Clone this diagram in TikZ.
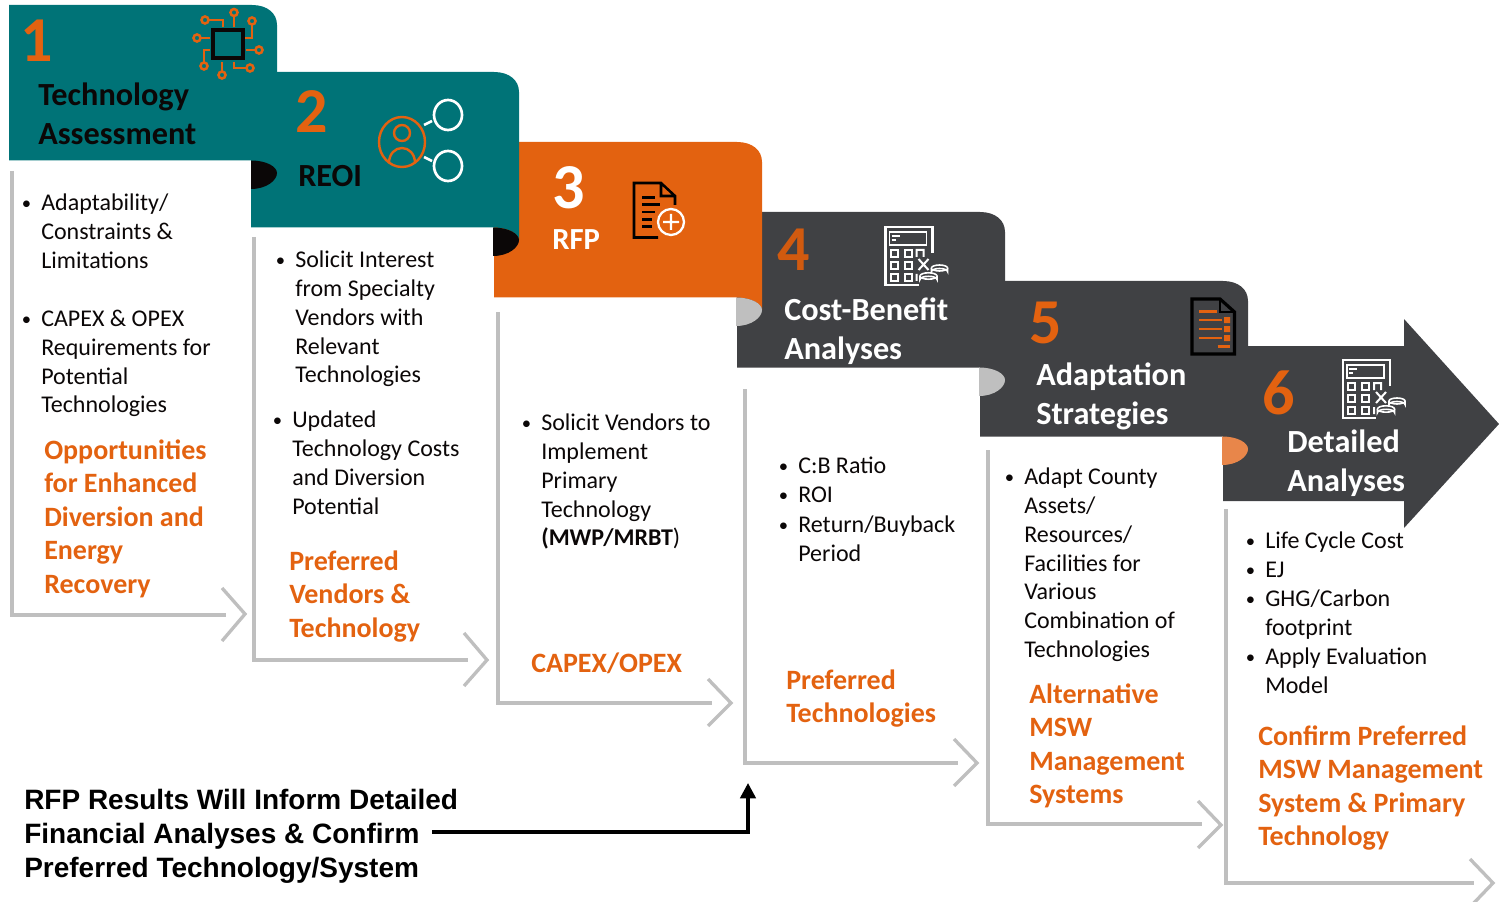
\documentclass[tikz,border=0pt]{standalone}
\usepackage{fontspec}
\setmainfont{Carlito}
\newfontfamily\notefont{Liberation Sans}
\usetikzlibrary{arrows.meta}
\definecolor{rteal}{HTML}{007377}
\definecolor{rorange}{HTML}{E36210}
\definecolor{rdark}{HTML}{404144}
\definecolor{rgray}{HTML}{BFBFBF}
\definecolor{rcurl}{HTML}{E8864A}
\definecolor{rblack}{HTML}{0B0707}
\newcommand{\bul}{\llap{\raisebox{0.8pt}{\fontsize{14}{14}\selectfont\textbullet}\hspace{7.5pt}}}

\begin{document}
\begin{tikzpicture}[x=0.75pt,y=-0.75pt]
		\clip (0,0) rectangle (1499,902);
		\tikzset{body/.style = {anchor=north west,inner sep=0pt,align=left,text=rblack,font=\fontsize{18}{21.55}\selectfont,execute at begin node=\strut}}
		\tikzset{head/.style = {anchor=north west,inner sep=0pt,align=left,text=rorange,font=\fontsize{21}{25.1}\bfseries\selectfont,execute at begin node=\strut}}
		\tikzset{title/.style = {anchor=north west,inner sep=0pt,align=left,font=\fontsize{24.2}{29}\bfseries\selectfont,execute at begin node=\strut}}
		\tikzset{number/.style = {anchor=base west,inner sep=0pt,font=\fontsize{48}{48}\bfseries\selectfont}}
		\tikzset{note/.style = {anchor=north west,inner sep=0pt,align=left,text=black,font=\fontsize{21}{25.5}\notefont\bfseries\selectfont,execute at begin node=\strut}}
		\tikzset{bent/.style = {draw=rgray,line width=2.5pt,line join=miter}}
		\tikzset{pics/ribbon/.style 2 args = {code = {
			\fill[#1] (0,0) -- (243,0) .. controls (258,0) and (268,8) .. (268,20) -- (268,168) .. controls (268,162) and (258,155.5) .. (242,155.5) -- (0,155.5) -- cycle;
			\fill[#2] (242,155.5) .. controls (258,155.5) and (268,162) .. (268,168) .. controls (268,175) and (258,184) .. (242,184) -- cycle;
		}}}
		\tikzset{pics/calcicon/.style = {code = {
			\draw[white,line width=1.6pt] (47,26) -- (47,0) -- (0,0) -- (0,58) -- (33,58);
			\draw[white,line width=1.3pt] (4,5) rectangle (41,18) (6,9) -- (14,9) (6,13) -- (10,13);
			\draw[white,line width=1.5pt] (5,23) rectangle +(7,7) (19,23) rectangle +(7,7) (5,35) rectangle +(7,7) (19,35) rectangle +(7,7) (5,47) rectangle +(7,7) (19,47) rectangle +(7,7);
			\draw[white,line width=1.5pt] (38,30) -- (38,23) -- (31,23) -- (31,30) (31,47) -- (31,54) (33,32) -- (43,43) (43,32) -- (33,43);
			\draw[white,fill=rdark,line width=1.2pt] (54,41) ellipse (8 and 3);
			\draw[white,fill=rdark,line width=1.2pt] (46,41) -- (46,44.5) arc (180:360:8 and 3) -- (62,41);
			\draw[white,fill=rdark,line width=1.2pt] (43,49) ellipse (8.5 and 3.2);
			\draw[white,fill=rdark,line width=1.2pt] (34.5,49) -- (34.5,52.5) arc (180:360:8.5 and 3.2) -- (51.5,49);
		}}}

		% ribbons, last one first
		\fill[rdark] (1223,346) -- (1404,346) -- (1404,319) -- (1499,424) -- (1404,528) -- (1404,501) -- (1223,501) -- cycle;
		\pic at (980,281) {ribbon={rdark}{rcurl}};
		\pic at (737,212) {ribbon={rdark}{rgray}};
		\pic at (494,142) {ribbon={rorange}{rgray}};
		\pic at (251,72) {ribbon={rteal}{rblack}};
		\pic at (9,5) {ribbon={rteal}{rblack}};

		% bent lines under the ribbons
		\draw[bent] (12,171) -- (12,615) -- (226,615);
		\draw[bent] (222,588) -- (245,614) -- (222,641);
		\draw[bent] (254,237) -- (254,660) -- (468,660);
		\draw[bent] (464,633) -- (487,660) -- (464,686);
		\draw[bent] (498,312) -- (498,703) -- (712,703);
		\draw[bent] (708,679) -- (731,703) -- (708,726);
		\draw[bent] (745,389) -- (745,763) -- (958,763);
		\draw[bent] (954,739) -- (977,763) -- (954,786);
		\draw[bent] (988,450) -- (988,824) -- (1202,824);
		\draw[bent] (1198,801) -- (1221,825) -- (1198,848);
		\draw[bent] (1226,509) -- (1226,883) -- (1474,883);
		\draw[bent] (1470,859) -- (1493,883) -- (1470,907);

		% numbers and titles
		\node[number,text=rorange] (n1) at (20,62) {1};
		\node[number,text=rorange] (n2) at (295,133) {2};
		\node[number,text=white] (n3) at (552.5,209) {3};
		\node[number,text=rorange!92!black] (n4) at (777,271) {4};
		\node[number,text=rorange] (n5) at (1029,344) {5};
		\node[number,text=rorange] (n6) at (1262,414) {6};
		\node[title,text=rblack] (t1) at (38,82.5) {Technology\\Assessment};
		\node[title,text=rblack] (t2) at (298,159) {REOI};
		\node[title,text=white,font=\fontsize{23}{25}\bfseries\selectfont] (t3) at (552,226) {RFP};
		\node[title,text=white] (t4) at (784,298) {Cost-Benefit\\Analyses};
		\node[title,text=white] (t5) at (1036,363) {Adaptation\\Strategies};
		\node[title,text=white] (t6) at (1287,430) {Detailed\\Analyses};

		% chip
		\draw[rorange,line width=1.9pt] (234,16) -- (234,27) (208,20) -- (223,20) -- (223,27) (252,25) -- (252,38) -- (245,38) (200,38) -- (210,38) (210,50) -- (204,50) -- (204,62) (222,72) -- (222,62) (234,62) -- (234,68) -- (246,68) (246,50) -- (256,50);
		\draw[rorange,line width=1.9pt] (234,12.5) circle (3.5) (205,20) circle (3.5) (252,21) circle (3.5) (197,38) circle (3.5) (204,66) circle (3.5) (222,75) circle (3.5) (250,68) circle (3.5) (259,50) circle (3.5);
		\draw[rblack,line width=2.4pt] (213,30) rectangle (243,58);
		% person
		\draw[rorange,line width=1.8pt] (402,142) ellipse (23 and 25) (402,133) circle (8);
		\draw[rorange,line width=1.8pt] (389,163) .. controls (389,154) and (395,148) .. (402,148) .. controls (409,148) and (415,154) .. (415,163);
		\draw[white,line width=2pt] (448,115) ellipse (14 and 15) (448,166) ellipse (14 and 15) (424,125) -- (432,121) (424,157) -- (432,161);
		% page with plus
		\draw[black,line width=1.9pt] (658,237.5) -- (634,237.5) -- (634,183) -- (661,183) -- (675,196) -- (675,205) (661,183) -- (661,196) -- (675,196);
		\draw[black,line width=1.7pt] (642,197.5) -- (655,197.5) (642,204.5) -- (660,204.5) (642,212) -- (655,212) (642,219.5) -- (652,219.5) (642,226.5) -- (652,226.5);
		\draw[white,line width=1.7pt] (671,222) circle (13) (671,214) -- (671,230) (663,222) -- (679,222);
		% calculators
		\pic at (885.5,227) {calcicon};
		\pic at (1343,360) {calcicon};
		% page with list
		\draw[black,fill=rdark,line width=2.4pt] (1192,299) -- (1220,299) -- (1234.5,312) -- (1234.5,354) -- (1192,354) -- cycle;
		\draw[black,line width=2pt] (1220,299) -- (1220,312) -- (1234.5,312);
		\draw[rorange,line width=1.7pt] (1199,311.5) -- (1216.5,311.5) (1199,320) -- (1222,320) (1199,329) -- (1222,329) (1199,338) -- (1222,338) (1217.5,346.5) -- (1229.5,346.5);
		\fill[rorange] (1224,317) rectangle +(6,6) (1224,326) rectangle +(6,6) (1224,335) rectangle +(6,6);

		% lists
		\node[body] (a1) at (41,194) {\bul Adaptability/\\Constraints \&\\Limitations};
		\node[body] (a2) at (41,310) {\bul CAPEX \& OPEX\\Requirements for\\Potential\\Technologies};
		\node[head] (h1) at (44,439.5) {Opportunities\\for Enhanced\\Diversion and\\Energy\\Recovery};
		\node[body] (b1) at (295,251) {\bul Solicit Interest\\from Specialty\\Vendors with\\Relevant\\Technologies};
		\node[body] (b2) at (292,411) {\bul Updated\\Technology Costs\\and Diversion\\Potential};
		\node[head] (h2) at (289,550.5) {Preferred\\Vendors \&\\Technology};
		\node[body] (c1) at (541,414) {\bul Solicit Vendors to\\Implement\\Primary\\Technology\\\textbf{(MWP/MRBT})};
		\node[head] (h3) at (531,649) {CAPEX/OPEX};
		\node[body] (d1) at (798,453) {\bul C:B Ratio};
		\node[body] (d2) at (798,482) {\bul ROI};
		\node[body] (d3) at (798,516) {\bul Return/Buyback\\Period};
		\node[head] (h4) at (786,669.5) {Preferred\\Technologies};
		\node[body] (e1) at (1024,468) {\bul Adapt County\\Assets/\\Resources/\\Facilities for\\Various\\Combination of\\Technologies};
		\node[head] (h5) at (1029,683.5) {Alternative\\MSW\\Management\\Systems};
		\node[body] (f1) at (1265,528) {\bul Life Cycle Cost};
		\node[body] (f2) at (1265,557) {\bul EJ};
		\node[body] (f3) at (1265,590) {\bul GHG/Carbon\\footprint};
		\node[body] (f4) at (1265,648) {\bul Apply Evaluation\\Model};
		\node[head] (h6) at (1258,725.5) {Confirm Preferred\\MSW Management\\System \& Primary\\Technology};

		% note and its arrow
		\node[note] (rfpnote) at (24,789) {RFP Results Will Inform Detailed\\Financial Analyses \& Confirm\\Preferred Technology/System};
		\coordinate (notestart) at (432,832);
		\coordinate (noteend) at (748,783);
		\draw[-{Triangle[length=11.5pt,width=11.5pt]},black,line width=2.6pt] (notestart) -| (noteend);
		\end{tikzpicture}
\end{document}
